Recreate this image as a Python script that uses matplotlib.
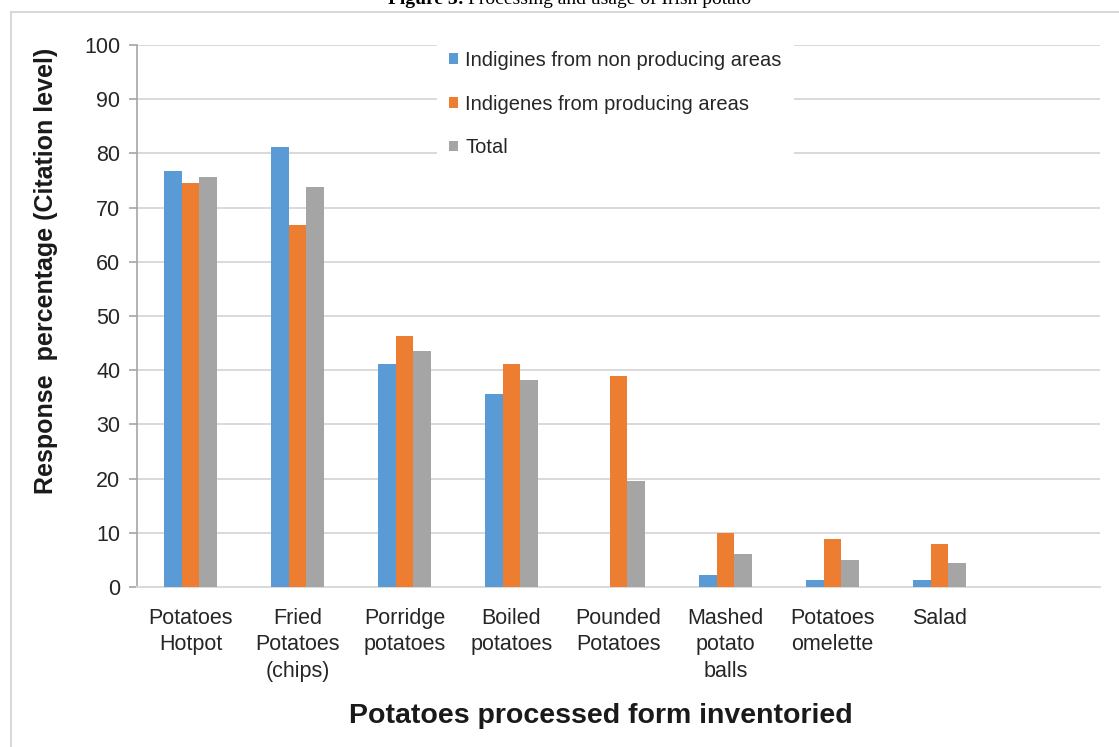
import numpy as np
import matplotlib.pyplot as plt
from matplotlib.patches import Patch, Rectangle

plt.rcParams["font.family"] = ["Liberation Sans", "DejaVu Sans"]

categories = ["Potatoes\nHotpot", "Fried\nPotatoes\n(chips)", "Porridge\npotatoes",
              "Boiled\npotatoes", "Pounded\nPotatoes", "Mashed\npotato\nballs",
              "Potatoes\nomelette", "Salad", ""]
series_names = ["Indigines from non producing areas",
                "Indigenes from producing areas",
                "Total"]
non_producing = [76.7, 81.1, 41.1, 35.7, 0.0, 2.3, 1.2, 1.2]
producing = [74.5, 66.8, 46.4, 41.1, 38.9, 10.0, 8.9, 7.9]
total = [75.6, 73.8, 43.5, 38.2, 19.6, 6.0, 4.9, 4.5]
yticks = [0, 10, 20, 30, 40, 50, 60, 70, 80, 90, 100]

colors = ["#5B9BD5", "#ED7D31", "#A5A5A5"]
W, H = 1119, 747

fig = plt.figure(figsize=(W / 100, H / 100), dpi=100)
ax = fig.add_axes([137 / W, 1 - 587 / H, (1100 - 137) / W, (587 - 45) / H])

# outer chart frame (only top and left edges fall inside the canvas)
fig.patches.append(Rectangle((11 / W, -0.1), 1.2, 1 - 12 / H + 0.1,
                             transform=fig.transFigure, fill=False,
                             edgecolor="#d9d9d9", linewidth=1.5))

x = np.arange(len(non_producing))
bw = 0.168
for i, (vals, c) in enumerate(zip([non_producing, producing, total], colors)):
    ax.bar(x + (i - 1) * bw, vals, width=bw, color=c, zorder=3)

ax.set_xlim(-0.5, len(categories) - 0.5)
ax.set_ylim(0, 100)
ax.set_yticks(yticks)
ax.set_xticks(np.arange(len(categories)))
ax.set_xticklabels(categories, fontsize=15.5, color="#262626", linespacing=1.35)
ax.tick_params(axis="x", length=0, pad=15)
ax.tick_params(axis="y", length=6, width=1.2, color="#a6a6a6", pad=6,
               labelsize=15.5, labelcolor="#262626")
ax.yaxis.grid(True, color="#d9d9d9", linewidth=1.4, zorder=0)
ax.set_axisbelow(True)
for s in ["top", "right"]:
    ax.spines[s].set_visible(False)
ax.spines["left"].set_color("#a6a6a6")
ax.spines["left"].set_linewidth(1.2)
ax.spines["bottom"].set_color("#d9d9d9")
ax.spines["bottom"].set_linewidth(1.4)

handles = [Patch(facecolor=c, edgecolor="none") for c in colors]
leg = ax.legend(handles, series_names, loc="upper left",
                bbox_to_anchor=(437 / W, 1 - 39 / H), bbox_transform=fig.transFigure,
                fontsize=14.5, frameon=True, facecolor="white", edgecolor="none",
                fancybox=False, framealpha=1, handlelength=0.45, handleheight=0.45,
                handletextpad=0.35, labelspacing=1.22, borderpad=0.6,
                borderaxespad=0)
leg.set_zorder(5)
for t in leg.get_texts():
    t.set_color("#262626")

fig.text(46 / W, 1 - 271 / H, "Response  percentage (Citation level)",
         rotation=90, ha="center", va="center", fontsize=18,
         fontweight="bold", color="#1a1a1a")
fig.text(601 / W, 1 - 716 / H, "Potatoes processed form inventoried",
         ha="center", va="center", fontsize=20.5, fontweight="bold",
         color="#1a1a1a")

# caption above the chart, partly cut by the top edge
cap_y = 1 - 4 / H
fig.text(464 / W, cap_y, "Figure 3:", ha="right", va="baseline", fontsize=14,
         family="Liberation Serif", fontweight="bold", color="black")
fig.text(468 / W, cap_y, "Processing and usage of Irish potato", ha="left",
         va="baseline", fontsize=14, family="Liberation Serif", color="black")

fig.savefig("out.png", dpi=100)
